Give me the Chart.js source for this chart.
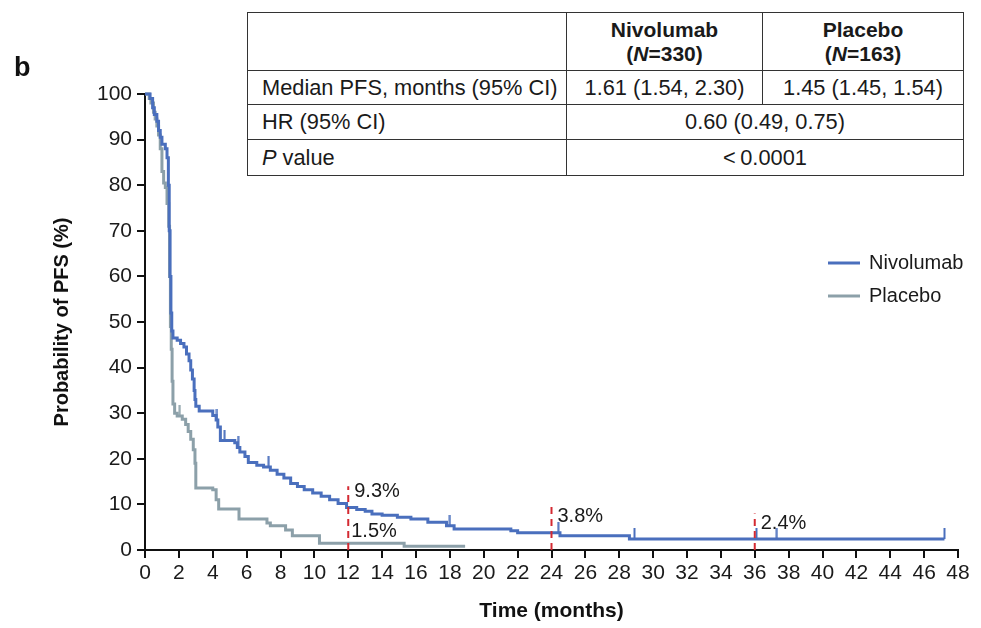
<!DOCTYPE html>
<html>
<head>
<meta charset="utf-8">
<script src="https://cdn.jsdelivr.net/npm/chart.js@4"></script>
<style>
  body { margin: 0; background: #fff; font-family: "Liberation Sans", Arial, sans-serif; }
  #wrap { position: relative; width: 981px; height: 628px; }
  #chart { position: absolute; left: 0; top: 0; }
  #panel { position: absolute; left: 14px; top: 52px; font-size: 27px; font-weight: bold; color: #111; }
  #stats { position: absolute; left: 247px; top: 12px; border-collapse: collapse; table-layout: fixed;
           font-size: 21.8px; color: #1a1a1a; background: #fff; }
  #stats td { border: 1.5px solid #333; padding: 0; white-space: nowrap; text-align: center; }
  #stats td.lab { text-align: left; padding-left: 14px; }
  #stats tr.head td { font-weight: bold; font-size: 21px; height: 57px; line-height: 24px; }
</style>
</head>
<body>
<div id="wrap">
  <canvas id="chart" width="981" height="628"></canvas>
  <div id="panel">b</div>
  <table id="stats"></table>
</div>
<script>
// Kaplan-Meier step data (months, PFS %)
const nivoTime = [0, 0.3, 0.45, 0.55, 0.7, 0.8, 0.9, 1.0, 1.2, 1.3, 1.38, 1.43, 1.48, 1.53, 1.58, 1.65, 1.9, 2.1, 2.3, 2.45,
  2.6, 2.7, 2.8, 2.9, 2.95, 3.0, 3.2, 4.0, 4.2, 4.3, 4.45, 5.3, 5.45, 5.6, 5.9, 6.1, 6.6, 7.0, 7.4, 7.8,
  8.2, 8.6, 9.0, 9.4, 9.9, 10.4, 10.9, 11.4, 11.9, 12.5, 13.0, 13.4, 14.0, 14.9, 15.7, 16.7, 17.8, 18.25, 21.6, 22.0,
  24.5, 28.6, 47.2];
const nivoPfs = [100, 99, 97, 95.5, 94, 92, 90.5, 89, 88, 86, 80, 70, 60, 52, 48, 46.5, 46, 45.3, 44.5, 43,
  41.5, 39.5, 37.5, 35, 33, 31.5, 30.5, 29.5, 28.5, 27, 24, 23.5, 22.5, 21.5, 20.5, 19.2, 18.6, 18.2, 17.5, 16.6,
  15.8, 14.6, 13.9, 13.2, 12.5, 11.8, 11, 10.2, 9.3, 8.9, 8.5, 7.9, 7.6, 7.2, 6.8, 6.1, 5.3, 4.6, 4.2, 3.8,
  3.1, 2.4, 2.4];
const nivoCensor = [4.25, 4.7, 5.5, 7.3, 18.0, 24.4, 28.9, 36.1, 37.3, 47.2];

const placeboTime = [0, 0.25, 0.35, 0.5, 0.6, 0.7, 0.8, 0.9, 1.0, 1.1, 1.2, 1.3, 1.4, 1.45, 1.5, 1.55, 1.6, 1.65, 1.75, 1.9,
  2.2, 2.4, 2.55, 2.7, 2.85, 2.95, 3.0, 4.0, 4.2, 4.35, 5.55, 7.2, 7.4, 8.3, 8.7, 10.3, 15.3, 18.9];
const placeboPfs = [100, 99, 98, 96, 94.5, 93, 91, 88, 83, 80.5, 79.5, 76, 71, 60, 49, 44, 37, 32, 30, 29.4,
  28.7, 27.5, 26, 24.3, 22, 19, 13.6, 13.2, 11, 9, 6.8, 5.9, 5.3, 4.4, 3.1, 1.5, 0.8, 0.8];
const placeboCensor = [2.05];

// landmark rates
const landmarkMonths = [12, 24, 36];
const landmarkTop = [14, 9.5, 8];
const landmarkNivo = [9.3, 3.8, 2.4];
const landmarkPlacebo = [1.5];

const xTickValues = [0, 2, 4, 6, 8, 10, 12, 14, 16, 18, 20, 22, 24, 26, 28, 30, 32, 34, 36, 38, 40, 42, 44, 46, 48];
const yTickValues = [0, 10, 20, 30, 40, 50, 60, 70, 80, 90, 100];

// summary table
const tableHead = ['', 'Nivolumab', 'Placebo'];
const tableN = ['', '330', '163'];
const medianRow = ['Median PFS, months (95% CI)', '1.61 (1.54, 2.30)', '1.45 (1.45, 1.54)'];
const hrRow = ['HR (95% CI)', '0.60 (0.49, 0.75)'];
const pRow = ['value', '<\u20090.0001'];

const nivoColor = '#4a6fbd';
const placeboColor = '#8ca0a9';
const redColor = '#d42a32';

function buildTable() {
    const t = document.getElementById('stats');
    let html = '<colgroup><col style="width:319px"><col style="width:196px"><col style="width:201px"></colgroup>';
    html += '<tr class="head">' + tableHead.map((h, i) =>
        '<td>' + (h ? h + '<br>(<i>N</i>=' + tableN[i] + ')' : '') + '</td>').join('') + '</tr>';
    html += '<tr style="height:34px"><td class="lab">' + medianRow[0] + '</td><td>' + medianRow[1] + '</td><td>' + medianRow[2] + '</td></tr>';
    html += '<tr style="height:35px"><td class="lab">' + hrRow[0] + '</td><td colspan="2">' + hrRow[1] + '</td></tr>';
    html += '<tr style="height:36px"><td class="lab"><i>P</i> ' + pRow[0] + '</td><td colspan="2">' + pRow[1].replace('<', '&lt;') + '</td></tr>';
    t.innerHTML = html;
}

function stepAt(times, vals, t) {
    let v = vals[0];
    for (let i = 0; i < times.length; i++) {
        if (times[i] <= t) v = vals[i];
    }
    return v;
}

// censor tick: short vertical line drawn upward from the point
function makeTickMark(color) {
    const c = document.createElement('canvas');
    c.width = 3;
    c.height = 22;
    const g = c.getContext('2d');
    g.strokeStyle = color;
    g.lineWidth = 2;
    g.beginPath();
    g.moveTo(1.5, 0);
    g.lineTo(1.5, 11);
    g.stroke();
    return c;
}

const labelPlugin = {
    id: 'labels',
    afterDatasetsDraw(chart) {
        const ctx = chart.ctx;
        const xs = chart.scales.x, ys = chart.scales.y;
        ctx.save();
        ctx.font = '20px "Liberation Sans", Arial, sans-serif';
        ctx.fillStyle = '#1a1a1a';
        ctx.textBaseline = 'middle';
        ctx.textAlign = 'left';
        landmarkMonths.forEach((m, i) => {
            ctx.fillText(landmarkNivo[i].toFixed(1) + '%', xs.getPixelForValue(m) + 6, ys.getPixelForValue(landmarkNivo[i]) - 16);
        });
        landmarkPlacebo.forEach((v, i) => {
            ctx.fillText(v.toFixed(1) + '%', xs.getPixelForValue(landmarkMonths[i]) + 3, ys.getPixelForValue(v) - 12);
        });

        // legend
        const items = [['Nivolumab', nivoColor], ['Placebo', placeboColor]];
        items.forEach((it, i) => {
            const y = 263 + i * 33;
            ctx.strokeStyle = it[1];
            ctx.lineWidth = 3;
            ctx.beginPath();
            ctx.moveTo(828, y);
            ctx.lineTo(860, y);
            ctx.stroke();
            ctx.fillText(it[0], 869, y);
        });
        ctx.restore();
    }
};

document.addEventListener('DOMContentLoaded', function () {
    buildTable();

    const datasets = [];
    landmarkMonths.forEach((m, i) => {
        datasets.push({
            data: [{x: m, y: 0}, {x: m, y: landmarkTop[i]}],
            borderColor: redColor,
            borderWidth: 2,
            borderDash: [7, 5],
            pointRadius: 0
        });
    });
    datasets.push({
        label: 'Nivolumab censored',
        data: nivoCensor.map(t => ({x: t, y: stepAt(nivoTime, nivoPfs, t)})),
        showLine: false,
        pointStyle: makeTickMark(nivoColor)
    });
    datasets.push({
        label: 'Placebo censored',
        data: placeboCensor.map(t => ({x: t, y: stepAt(placeboTime, placeboPfs, t)})),
        showLine: false,
        pointStyle: makeTickMark(placeboColor)
    });
    datasets.push({
        label: 'Nivolumab',
        data: nivoTime.map((t, i) => ({x: t, y: nivoPfs[i]})),
        stepped: true,
        borderColor: nivoColor,
        borderWidth: 3,
        pointRadius: 0,
        clip: 6
    });
    datasets.push({
        label: 'Placebo',
        data: placeboTime.map((t, i) => ({x: t, y: placeboPfs[i]})),
        stepped: true,
        borderColor: placeboColor,
        borderWidth: 3,
        pointRadius: 0,
        clip: 6
    });

    new Chart(document.getElementById('chart'), {
        type: 'line',
        data: {datasets: datasets},
        options: {
            responsive: false,
            animation: false,
            layout: {padding: {left: 0, right: 23, top: 94, bottom: 0}},
            plugins: {legend: {display: false}, tooltip: {enabled: false}},
            scales: {
                x: {
                    type: 'linear',
                    min: 0,
                    max: 48,
                    afterBuildTicks: s => { s.ticks = xTickValues.map(v => ({value: v})); },
                    afterFit: s => { s.height = 78; },
                    grid: {drawOnChartArea: false, color: '#111', lineWidth: 2, tickLength: 8},
                    border: {color: '#111', width: 2},
                    ticks: {color: '#1a1a1a', font: {size: 21, family: '"Liberation Sans", Arial'}, padding: 3, maxRotation: 0},
                    title: {display: true, text: 'Time (months)', color: '#111',
                        font: {size: 21, weight: 'bold', family: '"Liberation Sans", Arial'}, padding: {top: 0, bottom: 4}}
                },
                y: {
                    min: 0,
                    max: 100,
                    afterBuildTicks: s => { s.ticks = yTickValues.map(v => ({value: v})); },
                    afterFit: s => { s.width = 145; },
                    grid: {drawOnChartArea: false, color: '#111', lineWidth: 2, tickLength: 8},
                    border: {color: '#111', width: 2},
                    ticks: {color: '#1a1a1a', font: {size: 21, family: '"Liberation Sans", Arial'}, padding: 5},
                    title: {display: true, text: 'Probability of PFS (%)', color: '#111',
                        font: {size: 20, weight: 'bold', family: '"Liberation Sans", Arial'}, padding: {top: 50, bottom: 0}}
                }
            }
        },
        plugins: [labelPlugin]
    });
});
</script>
</body>
</html>
